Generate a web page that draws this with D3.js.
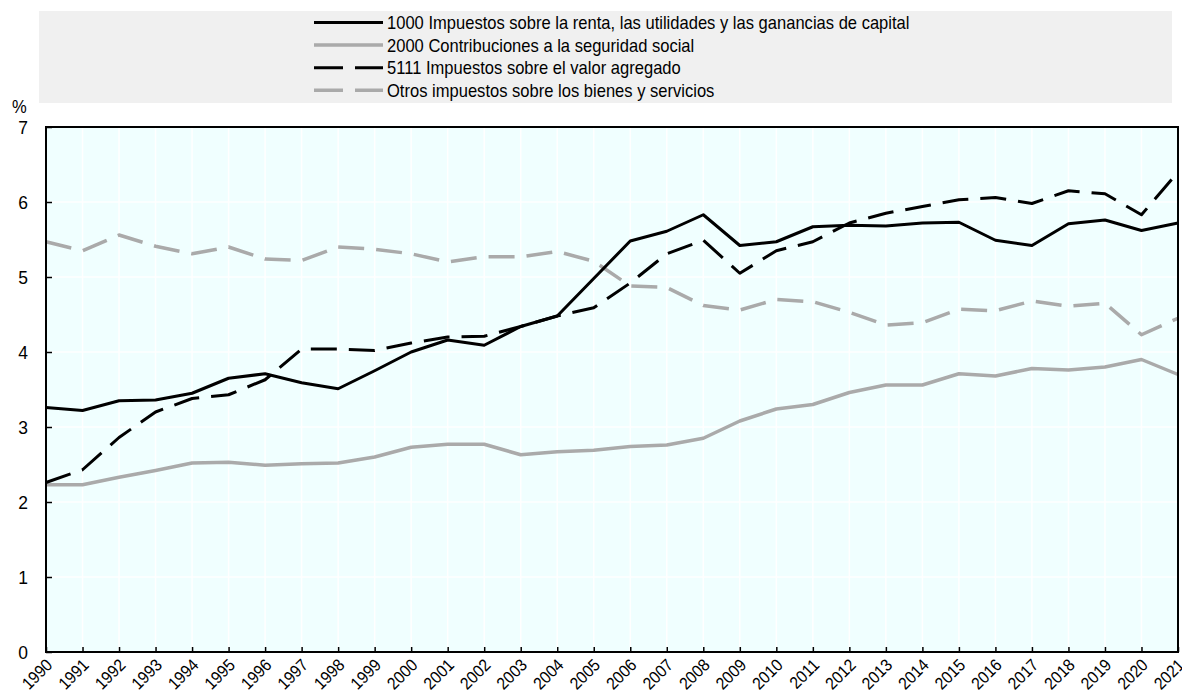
<!DOCTYPE html>
<html>
<head>
<meta charset="utf-8">
<script src="https://cdn.jsdelivr.net/npm/d3@7"></script>
<style>
    body { margin: 0; background: #ffffff; }
    svg { display: block; font-family: "Liberation Sans Narrow", "Arial Narrow", "Liberation Sans", sans-serif; }
</style>
</head>
<body>
<div id="chart"></div>
<script>
// data, % per year
var years = d3.range(1990, 2022);

var renta = [3.26, 3.22, 3.35, 3.36, 3.45, 3.65, 3.71, 3.59, 3.51, 3.75,
    4.00, 4.16, 4.09, 4.34, 4.48, 4.98, 5.48, 5.61, 5.83, 5.42,
    5.47, 5.67, 5.69, 5.68, 5.72, 5.73, 5.49, 5.42, 5.71, 5.76, 5.62, 5.72];

var seguridad = [2.23, 2.23, 2.33, 2.42, 2.52, 2.53, 2.49, 2.51, 2.52, 2.60,
    2.73, 2.77, 2.77, 2.63, 2.67, 2.69, 2.74, 2.76, 2.85, 3.08,
    3.24, 3.30, 3.46, 3.56, 3.56, 3.71, 3.68, 3.78, 3.76, 3.80, 3.90, 3.70];

var iva = [2.26, 2.43, 2.86, 3.20, 3.38, 3.43, 3.63, 4.04, 4.04, 4.02,
    4.12, 4.20, 4.21, 4.34, 4.48, 4.59, 4.92, 5.31, 5.49, 5.05,
    5.35, 5.47, 5.72, 5.85, 5.94, 6.03, 6.06, 5.98, 6.15, 6.11, 5.83, 6.40];

var otros = [5.47, 5.35, 5.56, 5.41, 5.31, 5.40, 5.24, 5.22, 5.40, 5.37,
    5.31, 5.20, 5.27, 5.27, 5.34, 5.21, 4.88, 4.86, 4.62, 4.56,
    4.70, 4.67, 4.53, 4.36, 4.39, 4.57, 4.55, 4.68, 4.61, 4.65, 4.23, 4.45];

var yTicks = [0, 1, 2, 3, 4, 5, 6, 7];

var seriesNames = [
    "1000 Impuestos sobre la renta, las utilidades y las ganancias de capital",
    "2000 Contribuciones a la seguridad social",
    "5111 Impuestos sobre el valor agregado",
    "Otros impuestos sobre los bienes y servicios"
];

var w = 1182, h = 691;
var margin = { top: 127, right: 4, bottom: 39, left: 46 };
var width = w - margin.left - margin.right;
var height = h - margin.top - margin.bottom;
var narrow = 0.92; // the source font is a condensed face

var series = [
    { name: seriesNames[3], values: otros, color: '#aaaaaa', width: 3.5, dash: '26,12' },
    { name: seriesNames[1], values: seguridad, color: '#aaaaaa', width: 3.5, dash: null },
    { name: seriesNames[0], values: renta, color: '#000000', width: 3, dash: null },
    { name: seriesNames[2], values: iva, color: '#000000', width: 3, dash: '26,12' }
];
var legendOrder = [2, 1, 3, 0];

var svg = d3.select('#chart').append('svg').attr('width', w).attr('height', h);

// legend box
var legend = svg.append('g').attr('class', 'legend');
legend.append('rect')
    .attr('x', 39).attr('y', 11).attr('width', 1133).attr('height', 92)
    .attr('fill', '#f0f0f0');

legendOrder.forEach(function (k, i) {
    var s = series[k];
    var y = 22.5 + i * 22.6;
    legend.append('line')
        .attr('x1', 314).attr('x2', 383).attr('y1', y).attr('y2', y)
        .attr('stroke', s.color).attr('stroke-width', s.width)
        .attr('stroke-dasharray', s.dash ? '29,12' : null);
    legend.append('text')
        .attr('transform', 'translate(387,' + (y + 6.5) + ') scale(' + narrow + ',1)')
        .attr('font-size', 18).attr('fill', '#000')
        .text(s.name);
});

var g = svg.append('g').attr('transform', 'translate(' + margin.left + ',' + margin.top + ')');

var scale_x = d3.scaleLinear().domain([1990, 2021]).range([0, width]);
var scale_y = d3.scaleLinear().domain([0, 7]).range([height, 0]);

g.append('rect').attr('width', width).attr('height', height).attr('fill', '#f0ffff');

// white grid
g.append('g').selectAll('line.gx').data(years.slice(1, -1)).enter().append('line')
    .attr('x1', function (d) { return scale_x(d); })
    .attr('x2', function (d) { return scale_x(d); })
    .attr('y1', 0).attr('y2', height)
    .attr('stroke', '#ffffff').attr('stroke-width', 1.5);
g.append('g').selectAll('line.gy').data(yTicks.slice(1, -1)).enter().append('line')
    .attr('x1', 0).attr('x2', width)
    .attr('y1', function (d) { return scale_y(d); })
    .attr('y2', function (d) { return scale_y(d); })
    .attr('stroke', '#ffffff').attr('stroke-width', 1.5);

// lines
var line = d3.line()
    .x(function (d, i) { return scale_x(years[i]); })
    .y(function (d) { return scale_y(d); });

series.forEach(function (s) {
    g.append('path')
        .attr('d', line(s.values))
        .attr('fill', 'none')
        .attr('stroke', s.color)
        .attr('stroke-width', s.width)
        .attr('stroke-linejoin', 'round')
        .attr('stroke-dasharray', s.dash);
});

// frame
g.append('rect').attr('width', width).attr('height', height)
    .attr('fill', 'none').attr('stroke', '#000').attr('stroke-width', 2);

// axes
var yAxis = d3.axisLeft(scale_y).tickValues(yTicks).tickSize(-6).tickFormat(d3.format('d'));
var yBar = g.append('g').attr('class', 'axis y').call(yAxis);
yBar.select('.domain').remove();
yBar.selectAll('line').attr('stroke', '#000').attr('stroke-width', 1.5);
yBar.selectAll('text')
    .attr('font-size', 19).attr('fill', '#000').attr('font-family', null)
    .attr('x', 0)
    .attr('transform', 'translate(-18,0) scale(' + narrow + ',1)');

var xAxis = d3.axisBottom(scale_x).tickValues(years).tickSize(-5).tickFormat(d3.format('d'));
var xBar = g.append('g').attr('class', 'axis x').attr('transform', 'translate(0,' + height + ')').call(xAxis);
xBar.select('.domain').remove();
xBar.selectAll('line').attr('stroke', '#000').attr('stroke-width', 1.5);
xBar.selectAll('text')
    .attr('font-size', 17).attr('fill', '#000').attr('font-family', null)
    .attr('text-anchor', 'end')
    .attr('dy', null).attr('y', 0)
    .attr('transform', 'translate(7,14) rotate(-45) scale(' + narrow + ',1)');

svg.append('text').attr('transform', 'translate(12,113) scale(' + narrow + ',1)')
    .attr('font-size', 18).attr('fill', '#000').text('%');
</script>
</body>
</html>
